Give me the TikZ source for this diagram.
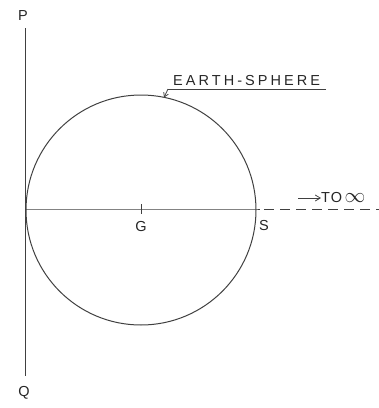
\documentclass[tikz,border=0pt]{standalone}
\usepackage{fontspec}
\setmainfont{Liberation Sans}
\usetikzlibrary{arrows.meta}
\begin{document}
\begin{tikzpicture}[x=1pt,y=-1pt,
  ink/.style={draw=black!75,line width=0.85pt},
  lbl/.style={text=black!85,font=\fontsize{14.5}{14.5}\selectfont,inner sep=0pt},
  ]
\useasboundingbox (0,0) rectangle (379,408);
% vertical line PQ
\coordinate (ptop) at (25,28);
\coordinate (pbot) at (25,376);
\node[lbl] (P) at (23,16) {P};
\node[lbl] (Q) at (24,393) {Q};
\draw[ink] (ptop) -- (pbot);
% sphere
\coordinate (G0) at (141,210);
\draw[ink,line width=1pt] (G0) circle[radius=115];
% diameter
\coordinate (L) at (26,209);
\coordinate (R) at (256,209);
\coordinate (Dend) at (379,209);
\draw[ink] (L) -- (R) -- (260,209);
\draw[ink,dash pattern=on 10pt off 6pt] (264,209) -- (Dend);
% tick at G
\draw[ink,line width=0.8pt] (141,204) -- (141,214);
\node[lbl] (G) at (141,227) {G};
\node[lbl] (S) at (264,226) {S};
% to infinity
\node[lbl,anchor=west] (to) at (321,198) {\addfontfeature{LetterSpace=8}TO\,{\fontsize{22}{22}\selectfont$\infty$}};
\coordinate (a1) at (298,198);
\draw[ink,line width=0.8pt,-{Straight Barb[length=5pt,width=6pt]}] (a1) -- (to.west);
% label earth-sphere
\node[lbl,anchor=south west] (es) at (173,86) {\addfontfeature{LetterSpace=21}EARTH-SPHERE};
\coordinate (u1) at (168,89);
\coordinate (u2) at (326,89);
\coordinate (tip) at (164,97.5);
\draw[ink,line width=1pt] (u2) -- (u1);
\draw[ink,line width=0.8pt,-{Straight Barb[length=4pt,width=5pt]}] (u1) -- (tip);
\end{tikzpicture}
\end{document}
